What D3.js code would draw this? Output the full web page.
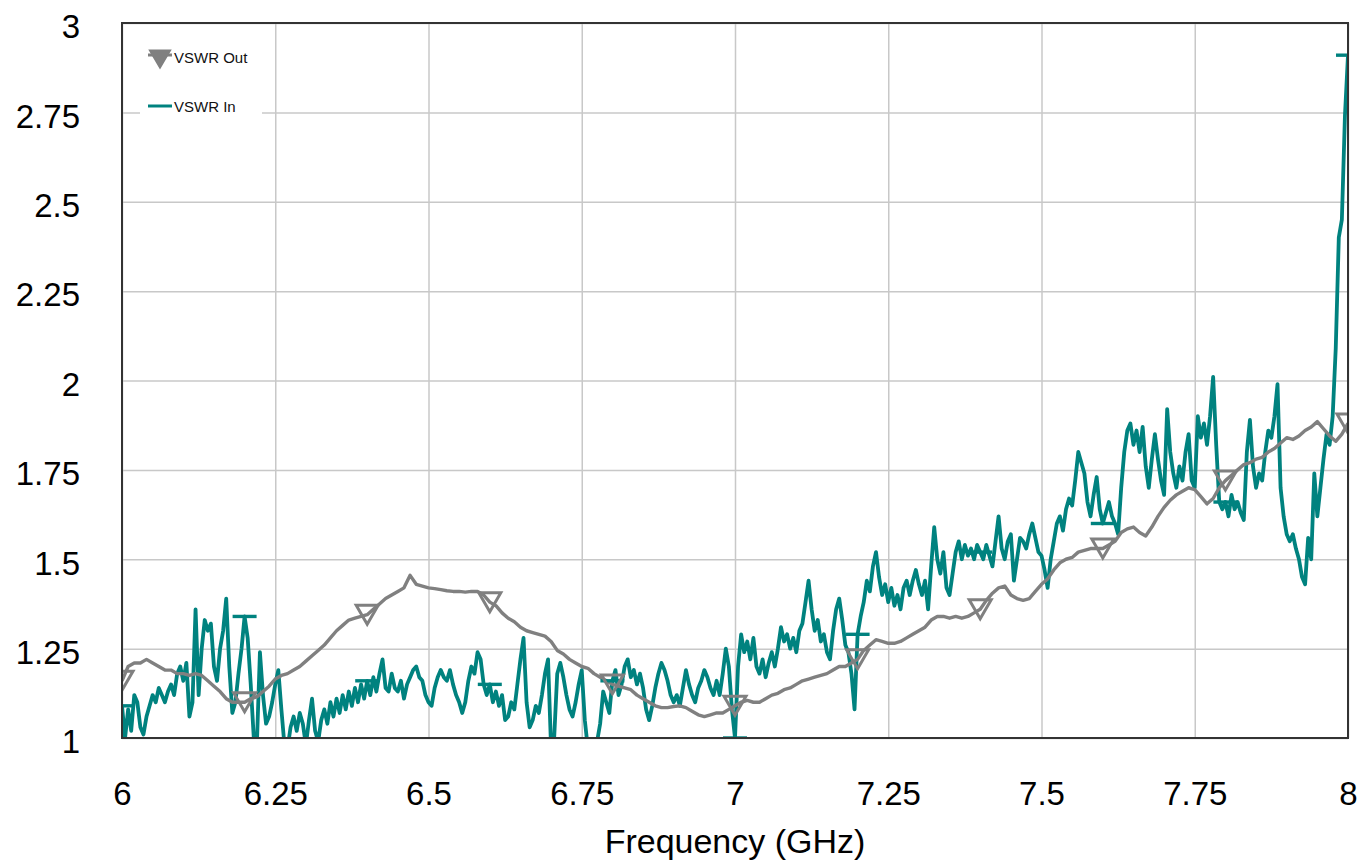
<!DOCTYPE html>
<html>
<head>
<meta charset="utf-8">
<script src="https://cdn.jsdelivr.net/npm/d3@7"></script>
<style>
  html, body { margin: 0; padding: 0; background: #fff; }
  svg { display: block; font-family: "Liberation Sans", Arial, sans-serif; }
</style>
</head>
<body>
<div id="graphe"></div>
<script>
// ===============================
// Data
// ===============================
const freqStart = 6;
const stepIn = 0.005;   // GHz between VSWR In points
const stepOut = 0.01;   // GHz between VSWR Out points

const vswrIn = [
  1.09,1.00,1.08,1.02,1.12,1.10,1.03,1.01,1.06,1.09,1.12,1.10,1.14,1.12,1.10,1.13,1.15,1.12,1.18,1.20,
  1.16,1.21,1.06,1.10,1.36,1.12,1.25,1.33,1.30,1.32,1.20,1.16,1.25,1.30,1.39,1.20,1.07,1.10,1.18,1.25,
  1.34,1.28,1.15,1.00,0.98,1.24,1.12,1.04,1.06,1.10,1.15,1.19,1.08,0.98,0.97,1.03,1.06,1.02,1.07,1.04,
  0.98,1.05,1.11,1.02,0.99,1.05,1.08,1.04,1.10,1.06,1.11,1.07,1.12,1.08,1.13,1.09,1.14,1.10,1.15,1.11,
  1.16,1.12,1.17,1.13,1.18,1.22,1.14,1.13,1.18,1.14,1.13,1.16,1.11,1.15,1.17,1.19,1.20,1.17,1.16,1.12,
  1.10,1.09,1.14,1.17,1.19,1.17,1.16,1.19,1.15,1.12,1.10,1.07,1.10,1.16,1.20,1.18,1.24,1.22,1.15,1.12,
  1.15,1.10,1.13,1.09,1.12,1.05,1.06,1.10,1.08,1.15,1.22,1.28,1.10,1.03,1.05,1.09,1.07,1.12,1.18,1.22,
  0.97,1.00,1.18,1.21,1.17,1.12,1.08,1.06,1.10,1.15,1.19,1.05,0.97,0.96,0.98,0.99,1.04,1.13,1.10,1.07,
  1.16,1.19,1.12,1.15,1.20,1.22,1.17,1.19,1.15,1.18,1.14,1.08,1.05,1.09,1.14,1.18,1.21,1.19,1.16,1.12,
  1.10,1.12,1.09,1.14,1.19,1.15,1.12,1.10,1.14,1.16,1.19,1.17,1.14,1.12,1.16,1.12,1.18,1.25,1.20,1.08,
  1.00,1.20,1.29,1.24,1.27,1.22,1.28,1.20,1.18,1.22,1.17,1.21,1.24,1.20,1.25,1.31,1.27,1.29,1.25,1.28,
  1.24,1.30,1.32,1.38,1.44,1.36,1.30,1.33,1.27,1.29,1.24,1.22,1.30,1.36,1.39,1.33,1.26,1.24,1.18,1.08,
  1.29,1.34,1.38,1.44,1.41,1.48,1.52,1.45,1.40,1.43,1.38,1.42,1.37,1.40,1.36,1.42,1.44,1.40,1.44,1.47,
  1.43,1.40,1.44,1.36,1.48,1.59,1.50,1.46,1.52,1.42,1.40,1.46,1.52,1.55,1.50,1.54,1.51,1.53,1.50,1.54,
  1.52,1.50,1.54,1.51,1.48,1.55,1.62,1.53,1.50,1.55,1.57,1.44,1.50,1.56,1.55,1.53,1.57,1.60,1.56,1.52,
  1.51,1.47,1.42,1.50,1.55,1.60,1.62,1.58,1.64,1.67,1.65,1.72,1.80,1.77,1.74,1.66,1.62,1.68,1.73,1.64,
  1.60,1.63,1.66,1.62,1.60,1.57,1.70,1.80,1.86,1.88,1.82,1.86,1.80,1.87,1.76,1.70,1.78,1.85,1.78,1.72,
  1.68,1.92,1.80,1.74,1.70,1.76,1.72,1.80,1.85,1.72,1.70,1.90,1.84,1.88,1.82,1.90,2.01,1.82,1.66,1.64,
  1.66,1.62,1.68,1.64,1.66,1.63,1.61,1.80,1.89,1.76,1.70,1.74,1.72,1.80,1.86,1.84,1.90,1.99,1.70,1.62,
  1.57,1.55,1.57,1.53,1.50,1.45,1.43,1.56,1.50,1.74,1.62,1.70,1.78,1.85,1.82,1.90,2.09,2.40,2.45,2.74,
  2.91
];

const vswrOut = [
  1.16,1.20,1.21,1.21,1.22,1.21,1.20,1.19,1.19,1.18,
  1.18,1.175,1.18,1.175,1.16,1.145,1.13,1.11,1.10,1.10,
  1.10,1.11,1.115,1.13,1.145,1.165,1.175,1.18,1.19,1.20,
  1.215,1.23,1.245,1.26,1.28,1.30,1.315,1.33,1.335,1.34,
  1.345,1.36,1.375,1.39,1.40,1.41,1.42,1.455,1.43,1.425,
  1.42,1.418,1.415,1.412,1.41,1.41,1.408,1.41,1.41,1.40,
  1.38,1.37,1.35,1.335,1.325,1.31,1.30,1.295,1.29,1.285,
  1.27,1.245,1.235,1.22,1.21,1.20,1.195,1.18,1.17,1.16,
  1.15,1.145,1.14,1.135,1.12,1.11,1.10,1.09,1.085,1.085,
  1.088,1.09,1.085,1.075,1.065,1.06,1.065,1.07,1.07,1.08,
  1.09,1.10,1.105,1.10,1.10,1.11,1.12,1.125,1.135,1.14,
  1.15,1.16,1.165,1.17,1.175,1.18,1.19,1.20,1.20,1.21,
  1.22,1.245,1.26,1.275,1.27,1.265,1.265,1.27,1.28,1.29,
  1.30,1.31,1.33,1.34,1.34,1.335,1.34,1.335,1.34,1.35,
  1.36,1.385,1.405,1.42,1.425,1.40,1.39,1.385,1.39,1.41,
  1.43,1.445,1.47,1.49,1.50,1.505,1.52,1.525,1.53,1.53,
  1.53,1.54,1.55,1.575,1.585,1.59,1.575,1.565,1.59,1.62,
  1.645,1.665,1.68,1.69,1.70,1.695,1.675,1.655,1.67,1.70,
  1.72,1.735,1.75,1.765,1.77,1.78,1.785,1.80,1.81,1.825,
  1.84,1.835,1.845,1.86,1.87,1.885,1.865,1.845,1.83,1.85,
  1.88
];

const xTicks = [6, 6.25, 6.5, 6.75, 7, 7.25, 7.5, 7.75, 8];
const yTicks = [1, 1.25, 1.5, 1.75, 2, 2.25, 2.5, 2.75, 3];
const markerEvery = 0.2;   // GHz between symbols on both traces

const seriesNames = ["VSWR Out", "VSWR In"];
const xTitle = "Frequency (GHz)";

// ===============================
// Layout and styles
// ===============================
const width = 1361, height = 861;
const plot = { left: 122, right: 1348, top: 23, bottom: 738 };
const colorIn = "#00827f";
const colorOut = "#808080";
const colorGrid = "#c8c8c8";

const svg = d3.select("#graphe").append("svg")
    .attr("width", width)
    .attr("height", height);

const x = d3.scaleLinear().domain([6, 8]).range([plot.left, plot.right]);
const y = d3.scaleLinear().domain([1, 3]).range([plot.bottom, plot.top]);

// points with frequency
const ptsIn = vswrIn.map((v, i) => ({ f: freqStart + i * stepIn, v: v }));
const ptsOut = vswrOut.map((v, i) => ({ f: freqStart + i * stepOut, v: v }));

// ===============================
// Grid and axes
// ===============================
svg.append("g")
    .attr("transform", `translate(0,${plot.bottom})`)
    .call(d3.axisBottom(x).tickValues(xTicks).tickSize(-(plot.bottom - plot.top)).tickFormat(""))
    .call(g => g.select(".domain").remove())
    .call(g => g.selectAll("line").attr("stroke", colorGrid).attr("stroke-width", 1.5));

svg.append("g")
    .attr("transform", `translate(${plot.left},0)`)
    .call(d3.axisLeft(y).tickValues(yTicks).tickSize(-(plot.right - plot.left)).tickFormat(""))
    .call(g => g.select(".domain").remove())
    .call(g => g.selectAll("line").attr("stroke", colorGrid).attr("stroke-width", 1.5));

// tick labels
svg.append("g")
    .attr("transform", `translate(0,${plot.bottom})`)
    .call(d3.axisBottom(x).tickValues(xTicks).tickSize(0).tickPadding(0).tickFormat(d3.format("")))
    .call(g => g.select(".domain").remove())
    .call(g => g.selectAll("text")
        .attr("y", 67).attr("dy", null)
        .attr("fill", "#000")
        .attr("font-size", 33)
        .attr("font-family", "Liberation Sans, Arial, sans-serif"));

svg.append("g")
    .attr("transform", `translate(80,0)`)
    .call(d3.axisLeft(y).tickValues(yTicks).tickSize(0).tickPadding(0).tickFormat(d3.format("")))
    .call(g => g.select(".domain").remove())
    .call(g => g.selectAll("text")
        .attr("x", 0).attr("dy", "0.45em")
        .attr("fill", "#000")
        .attr("font-size", 33)
        .attr("font-family", "Liberation Sans, Arial, sans-serif"));

svg.append("text")
    .attr("x", (plot.left + plot.right) / 2)
    .attr("y", 853)
    .attr("text-anchor", "middle")
    .attr("font-size", 34)
    .text(xTitle);

// ===============================
// Traces
// ===============================
svg.append("clipPath").attr("id", "zone")
    .append("rect")
    .attr("x", plot.left).attr("y", plot.top)
    .attr("width", plot.right - plot.left).attr("height", plot.bottom - plot.top);

const traces = svg.append("g").attr("clip-path", "url(#zone)");

const line = d3.line().x(d => x(d.f)).y(d => y(d.v));

traces.append("path")
    .datum(ptsIn)
    .attr("d", line)
    .attr("fill", "none")
    .attr("stroke", colorIn)
    .attr("stroke-width", 3.8)
    .attr("stroke-linejoin", "round");

traces.append("path")
    .datum(ptsOut)
    .attr("d", line)
    .attr("fill", "none")
    .attr("stroke", colorOut)
    .attr("stroke-width", 3.4)
    .attr("stroke-linejoin", "round");

// symbols every 0.2 GHz
const isMarker = d => Math.abs(Math.round((d.f - freqStart) / markerEvery) * markerEvery - (d.f - freqStart)) < 1e-6;

traces.selectAll(".dashIn")
    .data(ptsIn.filter(isMarker))
    .join("line")
    .attr("x1", d => x(d.f) - 12).attr("x2", d => x(d.f) + 12)
    .attr("y1", d => y(d.v)).attr("y2", d => y(d.v))
    .attr("stroke", colorIn)
    .attr("stroke-width", 3.4);

// downward triangle
function triangle(cx, cy, w, h) {
    return `M${cx - w / 2},${cy - h / 2}L${cx + w / 2},${cy - h / 2}L${cx},${cy + h / 2}Z`;
}

traces.selectAll(".triOut")
    .data(ptsOut.filter(isMarker))
    .join("path")
    .attr("d", d => triangle(x(d.f), y(d.v), 22, 19))
    .attr("fill", "none")
    .attr("stroke", colorOut)
    .attr("stroke-width", 3);

// ===============================
// Frame and legend
// ===============================
svg.append("rect")
    .attr("x", plot.left).attr("y", plot.top)
    .attr("width", plot.right - plot.left).attr("height", plot.bottom - plot.top)
    .attr("fill", "none")
    .attr("stroke", "#333")
    .attr("stroke-width", 2);

const legende = svg.append("g");
legende.append("rect")
    .attr("x", 140).attr("y", 36).attr("width", 122).attr("height", 80)
    .attr("fill", "#fff");

legende.append("line")
    .attr("x1", 148).attr("x2", 172).attr("y1", 55).attr("y2", 55)
    .attr("stroke", colorOut).attr("stroke-width", 3);
legende.append("path")
    .attr("d", triangle(160, 59, 20, 17))
    .attr("fill", colorOut)
    .attr("stroke", colorOut)
    .attr("stroke-width", 2);

legende.append("line")
    .attr("x1", 148).attr("x2", 172).attr("y1", 106).attr("y2", 106)
    .attr("stroke", colorIn).attr("stroke-width", 3);

legende.selectAll("text")
    .data(seriesNames)
    .join("text")
    .attr("x", 174)
    .attr("y", (d, i) => i === 0 ? 63 : 112)
    .attr("font-size", 15)
    .attr("fill", "#111")
    .text(d => d);
</script>
</body>
</html>
